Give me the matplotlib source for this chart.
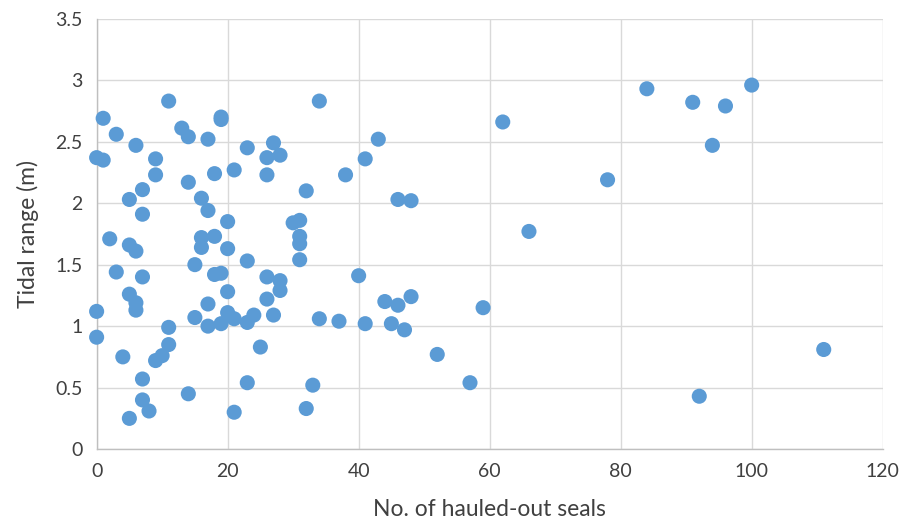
import matplotlib.pyplot as plt
import numpy as np

plt.rcParams['font.family'] = ['Lato', 'DejaVu Sans']

# number of hauled-out seals
seals = [0, 0, 0, 1, 1, 2, 3, 3, 4, 5, 5, 5, 5, 6, 6, 6, 6, 7, 7, 7, 7, 7,
         8, 9, 9, 9, 10, 11, 11, 11, 13, 14, 14, 14, 15, 15, 16, 16, 16,
         17, 17, 17, 17, 18, 18, 18, 19, 19, 19, 19, 20, 20, 20, 20, 21,
         21, 21, 23, 23, 23, 23, 24, 25, 26, 26, 26, 26, 27, 27, 28, 28,
         28, 30, 31, 31, 31, 31, 32, 32, 33, 34, 34, 37, 38, 40, 41, 41,
         43, 44, 45, 46, 46, 47, 48, 48, 52, 57, 59, 62, 66, 78, 84, 91,
         92, 94, 96, 100, 111]

# tidal range (m)
tide = [1.12, 0.91, 2.37, 2.35, 2.69, 1.71, 2.56, 1.44, 0.75, 2.03, 1.66,
        1.26, 0.25, 2.47, 1.61, 1.19, 1.13, 2.11, 1.91, 1.40, 0.57, 0.40,
        0.31, 2.36, 2.23, 0.72, 0.76, 2.83, 0.99, 0.85, 2.61, 2.54, 2.17,
        0.45, 1.50, 1.07, 2.04, 1.72, 1.64, 2.52, 1.94, 1.18, 1.00, 2.24,
        1.73, 1.42, 2.70, 2.68, 1.43, 1.02, 1.85, 1.63, 1.28, 1.11, 2.27,
        1.06, 0.30, 2.45, 1.53, 1.03, 0.54, 1.09, 0.83, 2.37, 2.23, 1.40,
        1.22, 2.49, 1.09, 2.39, 1.37, 1.29, 1.84, 1.86, 1.73, 1.67, 1.54,
        2.10, 0.33, 0.52, 2.83, 1.06, 1.04, 2.23, 1.41, 1.02, 2.36, 2.52,
        1.20, 1.02, 2.03, 1.17, 0.97, 2.02, 1.24, 0.77, 0.54, 1.15, 2.66,
        1.77, 2.19, 2.93, 2.82, 0.43, 2.47, 2.79, 2.96, 0.81]

fig = plt.figure(figsize=(9.03, 5.29), dpi=100)
ax = fig.add_axes([0.107, 0.151, 0.8705, 0.8137])

ax.scatter(seals, tide, s=118, color='#5B9BD5', edgecolors='none',
           zorder=3, clip_on=False)

ax.set_xlim(0, 120)
ax.set_ylim(0, 3.5)
ax.set_xticks(np.arange(0, 121, 20))
ax.set_yticks(np.arange(0, 3.51, 0.5))
ax.set_yticklabels(['0', '0.5', '1', '1.5', '2', '2.5', '3', '3.5'])

ax.grid(True, color='#D9D9D9', linewidth=1.0)
ax.set_axisbelow(True)
for side in ['top', 'right']:
    ax.spines[side].set_visible(False)
for side in ['left', 'bottom']:
    ax.spines[side].set_color('#BFBFBF')
    ax.spines[side].set_linewidth(1.0)

ax.tick_params(length=0, labelsize=14, labelcolor='#404040', pad=10)
ax.set_xlabel('No. of hauled-out seals', fontsize=16.5, color='#404040', labelpad=14)
ax.set_ylabel('Tidal range (m)', fontsize=16.5, color='#404040', labelpad=12)

fig.savefig('out.png', dpi=100)
